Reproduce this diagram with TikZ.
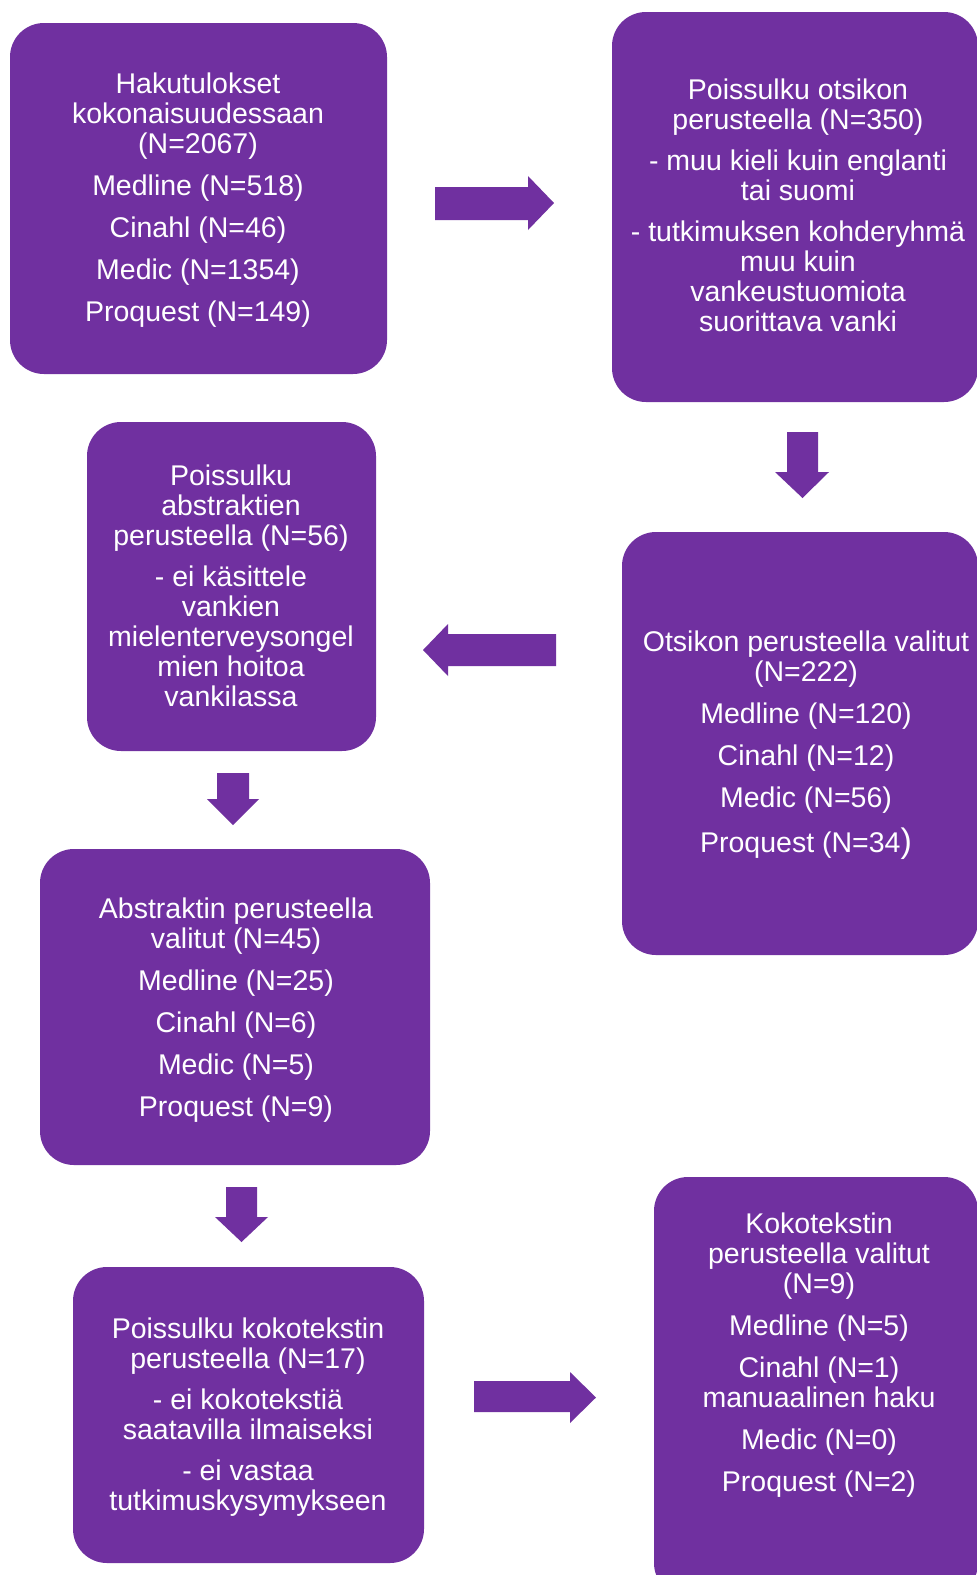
\documentclass[tikz,border=0pt]{standalone}
\usepackage{fontspec}
\setmainfont{Liberation Sans}
\definecolor{ppl}{HTML}{7030A0}
\tikzset{
  box/.style={fill=ppl, draw=none, rounded corners=34pt, inner sep=0pt, outer sep=0pt},
  txt/.style={text=white, align=center, inner sep=0pt, font=\fontsize{28.5}{30}\selectfont},
  blockarrow/.style={fill=ppl, draw=none},
}
\begin{document}
\begin{tikzpicture}[x=1pt,y=-1pt]
\useasboundingbox (0,0) rectangle (977,1575);
\clip (0,0) rectangle (977,1575);
\fill[white] (0,0) rectangle (977,1575);

% boxes
\node[box, minimum width=377pt, minimum height=351pt] (b1) at (198.5,198.5) {};
\node[box, minimum width=366pt, minimum height=390pt] (b2) at (795,207) {};
\node[box, minimum width=356pt, minimum height=423pt] (b3) at (800,743.5) {};
\node[box, minimum width=289pt, minimum height=329pt] (b4) at (231.5,586.5) {};
\node[box, minimum width=390pt, minimum height=316pt] (b5) at (235,1007) {};
\node[box, minimum width=351pt, minimum height=296pt] (b6) at (248.5,1415) {};
\node[box, minimum width=324pt, minimum height=420pt] (b7) at (816,1387) {};

% texts
\node[txt] (t1) at (198,200) {Hakutulokset\\kokonaisuudessaan\\(N=2067)\\[12pt]Medline (N=518)\\[12pt]Cinahl (N=46)\\[12pt]Medic (N=1354)\\[12pt]Proquest (N=149)};
\node[txt] (t2) at (798,205) {Poissulku otsikon\\perusteella (N=350)\\[11pt]- muu kieli kuin englanti\\tai suomi\\[11pt]- tutkimuksen kohderyhmä\\muu kuin\\vankeustuomiota\\suorittava vanki};
\node[txt] (t3) at (806,745) {Otsikon perusteella valitut\\(N=222)\\[12pt]Medline (N=120)\\[12pt]Cinahl (N=12)\\[12pt]Medic (N=56)\\[14pt]Proquest (N=34{\fontsize{34}{30}\selectfont )}};
\node[txt] (t4) at (231,586) {Poissulku\\abstraktien\\perusteella (N=56)\\[11pt]- ei käsittele\\vankien\\mielenterveysongel\\mien hoitoa\\vankilassa};
\node[txt] (t5) at (236,1010) {Abstraktin perusteella\\valitut (N=45)\\[12pt]Medline (N=25)\\[12pt]Cinahl (N=6)\\[12pt]Medic (N=5)\\[12pt]Proquest (N=9)};
\node[txt] (t6) at (248,1417) {Poissulku kokotekstin\\perusteella (N=17)\\[11pt]- ei kokotekstiä\\saatavilla ilmaiseksi\\[11pt]- ei vastaa\\tutkimuskysymykseen};
\node[txt] (t7) at (819,1355.5) {Kokotekstin\\perusteella valitut\\(N=9)\\[12pt]Medline (N=5)\\[12pt]Cinahl (N=1)\\manuaalinen haku\\[12pt]Medic (N=0)\\[12pt]Proquest (N=2)};

% block arrows
% right arrow b1 -> b2
\fill[blockarrow] (435,187) -- (528,187) -- (528,176) -- (554,203) -- (528,230) -- (528,220) -- (435,220) -- cycle;
% down arrow b2 -> b3
\fill[blockarrow] (787,432) -- (818,432) -- (818,472) -- (829,472) -- (802.5,498) -- (775,472) -- (787,472) -- cycle;
% left arrow b3 -> b4
\fill[blockarrow] (556,634) -- (448,634) -- (448,624) -- (423,650) -- (448,676) -- (448,666) -- (556,666) -- cycle;
% down arrow b4 -> b5
\fill[blockarrow] (217,773) -- (249,773) -- (249,799) -- (259,799) -- (233,825) -- (207,799) -- (217,799) -- cycle;
% down arrow b5 -> b6
\fill[blockarrow] (226,1187) -- (257,1187) -- (257,1217) -- (268,1217) -- (241.5,1242) -- (215,1217) -- (226,1217) -- cycle;
% right arrow b6 -> b7
\fill[blockarrow] (474,1381) -- (570,1381) -- (570,1372) -- (596,1397.5) -- (570,1423) -- (570,1412) -- (474,1412) -- cycle;
\end{tikzpicture}
\end{document}
